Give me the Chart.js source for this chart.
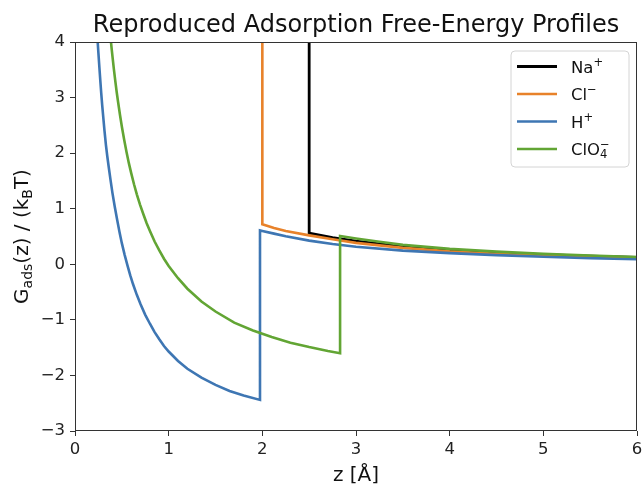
<!DOCTYPE html>
<html><head><meta charset="utf-8">
<script src="https://cdn.jsdelivr.net/npm/chart.js@4.4.0/dist/chart.umd.min.js"></script>
<style>html,body{margin:0;padding:0;background:#fff;}canvas{display:block;}</style>
</head><body>
<canvas id="c" width="644" height="486"></canvas>
<script>
// ---- data ----
const naZ = [2.5, 2.5, 2.75, 3.0, 3.25, 3.5, 4.0, 4.5, 5.0, 5.5, 6.0];
const naG = [4.0, 0.56, 0.48, 0.416, 0.365, 0.323, 0.258, 0.21, 0.174, 0.146, 0.124];

const clZ = [2.0, 2.0, 2.125, 2.25, 2.5, 2.75, 3.0, 3.5, 4.0, 4.5, 5.0, 5.5, 6.0];
const clG = [4.0, 0.72, 0.655, 0.60, 0.52, 0.45, 0.385, 0.295, 0.232, 0.188, 0.154, 0.127, 0.105];

const hZ = [0.24, 0.25, 0.26, 0.27, 0.28, 0.29, 0.30, 0.315, 0.33, 0.345, 0.36, 0.38, 0.40, 0.425, 0.45, 0.475, 0.50, 0.53, 0.56, 0.59,
            0.62, 0.66, 0.70, 0.75, 0.80, 0.85, 0.90, 0.95, 1.0, 1.1, 1.2, 1.35, 1.5, 1.65, 1.8, 1.975,
            1.975, 2.0, 2.125, 2.25, 2.5, 2.75, 3.0, 3.5, 4.0, 4.5, 5.0, 5.5, 6.0];
const hG = [4.06, 3.80, 3.55, 3.31, 3.08, 2.87, 2.68, 2.40, 2.15, 1.94, 1.75, 1.51, 1.28, 1.03, 0.80, 0.58, 0.38, 0.17, -0.02, -0.20,
            -0.36, -0.55, -0.72, -0.91, -1.07, -1.22, -1.35, -1.47, -1.57, -1.74, -1.88, -2.04, -2.17, -2.28, -2.36, -2.44,
            0.61, 0.60, 0.552, 0.504, 0.426, 0.365, 0.316, 0.246, 0.20, 0.165, 0.136, 0.111, 0.09];

const cloZ = [0.38, 0.39, 0.40, 0.415, 0.43, 0.445, 0.46, 0.48, 0.50, 0.525, 0.55, 0.575, 0.60, 0.63, 0.66, 0.695, 0.73, 0.765, 0.80,
              0.85, 0.90, 0.95, 1.0, 1.1, 1.2, 1.35, 1.5, 1.7, 1.9, 2.1, 2.3, 2.5, 2.7, 2.83,
              2.83, 3.0, 3.25, 3.5, 4.0, 4.5, 5.0, 5.5, 6.0];
const cloG = [4.07, 3.90, 3.74, 3.51, 3.30, 3.10, 2.92, 2.69, 2.48, 2.24, 2.02, 1.82, 1.64, 1.44, 1.26, 1.07, 0.90, 0.74, 0.60,
              0.41, 0.25, 0.10, -0.03, -0.25, -0.44, -0.67, -0.85, -1.05, -1.19, -1.31, -1.41, -1.49, -1.56, -1.60,
              0.51, 0.465, 0.407, 0.35, 0.277, 0.227, 0.187, 0.157, 0.132];

const seriesLabels = ['Na⁺', 'Cl⁻', 'H⁺', 'ClO₄⁻'];
const xTicks = [0, 1, 2, 3, 4, 5, 6];
const yTicks = [-3, -2, -1, 0, 1, 2, 3, 4];
const titleText = 'Reproduced Adsorption Free-Energy Profiles';

// ---- styling ----
const colors = ['#000000', '#e8822a', '#3e76b3', '#62a534'];
const FONT = '"DejaVu Sans", "Liberation Sans", sans-serif';
const richLabels = [
  [{t:'Na'},{t:'+',s:'sup'}],
  [{t:'Cl'},{t:'−',s:'sup'}],
  [{t:'H'},{t:'+',s:'sup'}],
  [{t:'ClO'},{t:'4',s:'sub'},{t:'−',s:'sup',stack:true}]
];
const yLabelRich = [{t:'G'},{t:'ads',s:'sub'},{t:'(z) / (k'},{t:'B',s:'sub'},{t:'T)'}];
const xLabelRich = [{t:'z [Å]'}];

function pts(xs, ys){ return xs.map((x,i)=>({x:x, y:ys[i]})); }
function fmt(v){ return v < 0 ? '−' + Math.abs(v) : String(v); }

function layoutRich(ctx, parts, size){
  let cx = 0, prevStart = 0, prevW = 0, segs = [];
  for (const p of parts){
    const fs = p.s ? size*0.7 : size;
    ctx.font = fs + 'px ' + FONT;
    const w = ctx.measureText(p.t).width;
    let sx;
    if (p.stack){ sx = prevStart; cx = prevStart + Math.max(prevW, w); }
    else { sx = cx; cx += w; prevStart = sx; prevW = w; }
    const dy = p.s === 'sub' ? size*0.2 : (p.s === 'sup' ? -size*0.42 : 0);
    segs.push({t:p.t, fs:fs, x:sx, dy:dy});
  }
  return {segs:segs, width:cx};
}
function drawRich(ctx, parts, x, y, size, align, color){
  const L = layoutRich(ctx, parts, size);
  let x0 = align === 'center' ? x - L.width/2 : (align === 'right' ? x - L.width : x);
  ctx.fillStyle = color || '#000';
  ctx.textBaseline = 'alphabetic';
  ctx.textAlign = 'left';
  for (const s of L.segs){
    ctx.font = s.fs + 'px ' + FONT;
    ctx.fillText(s.t, x0 + s.x, y + s.dy);
  }
}

const decor = {
  id: 'decor',
  afterDraw(chart){
    const ctx = chart.ctx, a = chart.chartArea;
    ctx.save();
    // frame
    ctx.strokeStyle = '#333';
    ctx.lineWidth = 1;
    ctx.strokeRect(Math.round(a.left)+0.5, Math.round(a.top)+0.5, Math.round(a.right-a.left)-1, Math.round(a.bottom-a.top)-1);
    // title
    ctx.fillStyle = '#111';
    ctx.font = '24px ' + FONT;
    ctx.textAlign = 'center';
    ctx.textBaseline = 'alphabetic';
    ctx.fillText(titleText, (a.left + a.right)/2, 32);
    // x label
    drawRich(ctx, xLabelRich, (a.left + a.right)/2, 481, 20, 'center', '#111');
    // y label
    ctx.save();
    ctx.translate(28, (a.top + a.bottom)/2);
    ctx.rotate(-Math.PI/2);
    drawRich(ctx, yLabelRich, 0, 0, 20, 'center', '#111');
    ctx.restore();
    // legend
    const lx = 511, ly = 51, lw = 118, lh = 116, r = 4;
    ctx.beginPath();
    ctx.moveTo(lx + r, ly);
    ctx.arcTo(lx + lw, ly, lx + lw, ly + lh, r);
    ctx.arcTo(lx + lw, ly + lh, lx, ly + lh, r);
    ctx.arcTo(lx, ly + lh, lx, ly, r);
    ctx.arcTo(lx, ly, lx + lw, ly, r);
    ctx.closePath();
    ctx.fillStyle = 'rgba(255,255,255,0.85)';
    ctx.fill();
    ctx.strokeStyle = '#d4d4d4';
    ctx.lineWidth = 1;
    ctx.stroke();
    const rows = [66.5, 94, 121.5, 149];
    chart.data.datasets.forEach((ds, i) => {
      const ry = rows[i];
      ctx.beginPath();
      ctx.strokeStyle = ds.borderColor;
      ctx.lineWidth = ds.borderWidth;
      ctx.moveTo(517, ry);
      ctx.lineTo(557, ry);
      ctx.stroke();
      drawRich(ctx, richLabels[i], 571, ry + 6, 16.5, 'left', '#111');
    });
    ctx.restore();
  }
};

const datasets = [
  {label: seriesLabels[0], data: pts(naZ, naG), borderColor: colors[0], borderWidth: 2.8, order: 4},
  {label: seriesLabels[1], data: pts(clZ, clG), borderColor: colors[1], borderWidth: 2.6, order: 3},
  {label: seriesLabels[2], data: pts(hZ, hG), borderColor: colors[2], borderWidth: 2.6, order: 2},
  {label: seriesLabels[3], data: pts(cloZ, cloG), borderColor: colors[3], borderWidth: 2.6, order: 1}
].map(d => Object.assign(d, {showLine: true, pointRadius: 0, tension: 0, fill: false, borderJoinStyle: 'miter', borderCapStyle: 'butt'}));

function noPadX(s){ s.height = 55; s.paddingLeft = 0; s.paddingRight = 0; }
function noPadY(s){ s.width = 75; s.paddingTop = 0; s.paddingBottom = 0; }

new Chart(document.getElementById('c'), {
  type: 'scatter',
  data: {datasets: datasets},
  options: {
    responsive: false,
    animation: false,
    devicePixelRatio: 1,
    layout: {padding: {top: 42, right: 7, left: 0, bottom: 0}},
    plugins: {legend: {display: false}, tooltip: {enabled: false}, title: {display: false}},
    scales: {
      x: {
        type: 'linear', min: 0, max: 6,
        afterBuildTicks: s => { s.ticks = xTicks.map(v => ({value: v})); },
        afterFit: noPadX,
        ticks: {callback: v => fmt(v), font: {family: FONT, size: 16.5}, color: '#222', padding: 4, maxRotation: 0},
        grid: {display: true, drawOnChartArea: false, drawTicks: true, tickLength: 5, color: '#333', lineWidth: 1},
        border: {display: false}
      },
      y: {
        type: 'linear', min: -3, max: 4,
        afterBuildTicks: s => { s.ticks = yTicks.map(v => ({value: v})); },
        afterFit: noPadY,
        ticks: {callback: v => fmt(v), font: {family: FONT, size: 16.5}, color: '#222', padding: 5},
        grid: {display: true, drawOnChartArea: false, drawTicks: true, tickLength: 5, color: '#333', lineWidth: 1},
        border: {display: false}
      }
    }
  },
  plugins: [decor]
});
</script>
</body></html>
